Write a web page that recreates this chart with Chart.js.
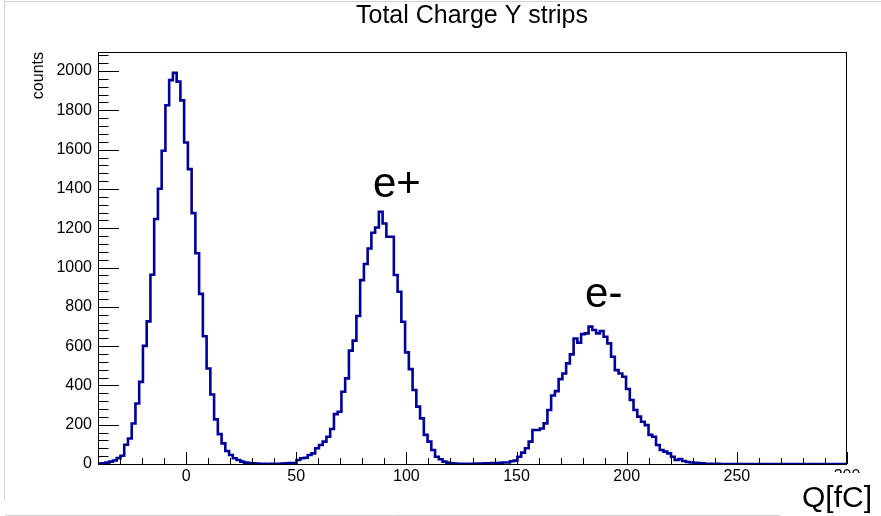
<!DOCTYPE html>
<html>
<head>
<meta charset="utf-8">
<title>Total Charge Y strips</title>
<script src="https://cdn.jsdelivr.net/npm/chart.js@4/dist/chart.umd.min.js"></script>
<style>
  html, body { margin: 0; padding: 0; background: #fff; }
  #wrap { width: 881px; height: 516px; }
</style>
</head>
<body>
<div id="wrap"><canvas id="hist" width="881" height="516"></canvas></div>
<script>
// histogram: 200 bins of 1.7 fC from -40 to 300
var xMin = -40;
var xMax = 300;
var binWidth = 1.7;

// bin contents
var counts = [
  2, 4, 7, 12, 18, 30, 42, 98, 130, 206,
  308, 418, 601, 726, 963, 1247, 1401, 1594, 1826, 1954,
  1991, 1946, 1851, 1636, 1501, 1277, 1073, 866, 650, 486,
  354, 227, 152, 105, 66, 46, 29, 20, 12, 7,
  5, 3, 2, 1, 1, 0, 1, 0, 1, 2,
  3, 5, 5, 20, 29, 32, 46, 54, 80, 97,
  114, 139, 178, 254, 266, 368, 436, 577, 628, 753,
  936, 1018, 1097, 1177, 1204, 1284, 1224, 1157, 1157, 962,
  877, 724, 568, 483, 377, 292, 232, 148, 114, 71,
  37, 24, 12, 7, 4, 2, 1, 1, 0, 1,
  1, 2, 2, 3, 4, 5, 5, 6, 8, 8,
  14, 17, 37, 58, 80, 114, 173, 173, 181, 207,
  275, 349, 371, 432, 461, 512, 558, 639, 617, 661,
  665, 699, 682, 665, 677, 648, 614, 546, 478, 461,
  444, 382, 326, 275, 241, 215, 198, 148, 139, 97,
  71, 63, 54, 37, 20, 25, 15, 10, 8, 6,
  5, 3, 1, 1, 0, 1, 0, 0, 0, 0,
  0, 0, 0, 0, 0, 0, 0, 0, 0, 0,
  0, 0, 0, 0, 0, 0, 0, 0, 0, 0,
  0, 0, 0, 0, 0, 0, 0, 0, 0, 0
];

var xTickLabels = [0, 50, 100, 150, 200, 250, 300];
var yTickLabels = [0, 200, 400, 600, 800, 1000, 1200, 1400, 1600, 1800, 2000];
var yMax = 2097;

// peak labels, placed in data units
var peakNames = ["e+", "e-"];
var peakX = [84.8, 181.1];
var peakY = [1360, 800];

var FONT = '"Liberation Sans", Arial, Helvetica, sans-serif';

// step points: left edge of each bin, plus the right edge of the last one
var points = counts.map(function (c, i) {
  return { x: xMin + i * binWidth, y: c };
});
points.push({ x: xMax, y: counts[counts.length - 1] });

// ROOT-like frame, inward ticks and texts
var rootFrame = {
  id: "rootFrame",
  afterDatasetsDraw: function (chart) {
    var ctx = chart.ctx;
    var area = chart.chartArea;
    var sx = chart.scales.x;
    var sy = chart.scales.y;

    ctx.save();

    // light canvas border
    ctx.strokeStyle = "#d0d0d0";
    ctx.lineWidth = 1;
    ctx.beginPath();
    ctx.moveTo(4.5, 0);
    ctx.lineTo(4.5, 500);
    ctx.moveTo(5, 1.5);
    ctx.lineTo(881, 1.5);
    ctx.moveTo(5, 515.5);
    ctx.lineTo(780, 515.5);
    ctx.stroke();

    // frame
    ctx.strokeStyle = "#000";
    ctx.lineWidth = 1;
    ctx.strokeRect(area.left + 0.5, area.top + 0.5, area.right - area.left - 1, area.bottom - area.top);

    // x ticks every 10, long at 50
    ctx.beginPath();
    for (var v = xMin; v <= xMax; v += 10) {
      var px = Math.round(sx.getPixelForValue(v)) + 0.5;
      var len = v % 50 === 0 ? 12 : 6;
      ctx.moveTo(px, area.bottom);
      ctx.lineTo(px, area.bottom - len);
    }
    // y ticks every 40, long at 200
    for (var w = 0; w <= yMax; w += 40) {
      var py = Math.round(sy.getPixelForValue(w)) + 0.5;
      var ylen = w % 200 === 0 ? 21 : 10.5;
      ctx.moveTo(area.left, py);
      ctx.lineTo(area.left + ylen, py);
    }
    ctx.stroke();

    // tick labels
    ctx.fillStyle = "#000";
    ctx.font = "16px " + FONT;
    ctx.textAlign = "right";
    ctx.textBaseline = "middle";
    yTickLabels.forEach(function (t) {
      ctx.fillText(String(t), area.left - 6, sy.getPixelForValue(t));
    });
    ctx.textAlign = "center";
    ctx.textBaseline = "top";
    xTickLabels.forEach(function (t) {
      ctx.fillText(String(t), sx.getPixelForValue(t), area.bottom + 5);
    });

    // axis title y
    ctx.save();
    ctx.translate(43, area.top);
    ctx.rotate(-Math.PI / 2);
    ctx.textAlign = "right";
    ctx.textBaseline = "alphabetic";
    ctx.font = "16px " + FONT;
    ctx.fillText("counts", 0, 0);
    ctx.restore();

    // title
    ctx.textAlign = "center";
    ctx.textBaseline = "alphabetic";
    ctx.font = "25px " + FONT;
    ctx.fillText("Total Charge Y strips", 472, 23);

    // peak labels
    ctx.textAlign = "left";
    ctx.font = "42px " + FONT;
    peakNames.forEach(function (name, i) {
      ctx.fillText(name, sx.getPixelForValue(peakX[i]), sy.getPixelForValue(peakY[i]));
    });

    // pasted x-axis title box
    ctx.fillStyle = "#fff";
    ctx.fillRect(780, 473, 101, 43);
    ctx.fillStyle = "#000";
    ctx.font = "30px " + FONT;
    ctx.fillText("Q[fC]", 802, 507);

    ctx.restore();
  }
};

var ctx = document.getElementById("hist").getContext("2d");

var histChart = new Chart(ctx, {
  type: "line",
  data: {
    datasets: [
      {
        label: "Total Charge Y strips",
        data: points,
        stepped: true,
        borderColor: "#000099",
        borderWidth: 2.6,
        pointRadius: 0,
        fill: false,
        tension: 0,
      },
    ],
  },
  options: {
    responsive: false,
    animation: false,
    devicePixelRatio: 1,
    layout: {
      padding: { left: 98, right: 34, top: 52, bottom: 52 },
    },
    plugins: {
      legend: { display: false },
      tooltip: { enabled: false },
      title: { display: false },
    },
    scales: {
      x: { type: "linear", min: xMin, max: xMax, display: false },
      y: { min: 0, max: yMax, display: false },
    },
  },
  plugins: [rootFrame],
});
</script>
</body>
</html>
